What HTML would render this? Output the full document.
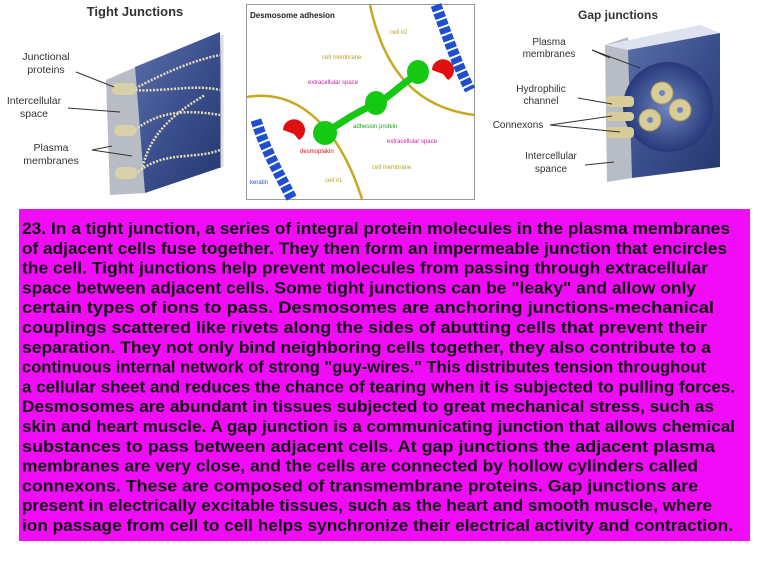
<!DOCTYPE html>
<html><head><meta charset="utf-8"><style>
html,body{margin:0;padding:0;background:#fff;width:768px;height:561px;overflow:hidden}
</style></head><body>
<svg width="768" height="561" viewBox="0 0 768 561" xmlns="http://www.w3.org/2000/svg" font-family="Liberation Sans, sans-serif">
<defs>
<linearGradient id="bl" x1="0" y1="0" x2="1" y2="1"><stop offset="0" stop-color="#5a6fa8"/><stop offset="0.5" stop-color="#3b4f8e"/><stop offset="1" stop-color="#24376e"/></linearGradient>
<radialGradient id="rg" cx="0.5" cy="0.5" r="0.5"><stop offset="0" stop-color="#6f86c0"/><stop offset="1" stop-color="#27397a"/></radialGradient>
</defs>
<!-- LEFT -->
<text x="135" y="16" font-size="13" font-weight="bold" fill="#333" text-anchor="middle">Tight Junctions</text>
<polygon points="106,80 135,67 145,193 110,195" fill="#b8bcc4"/>
<polygon points="106,80 200,40 220,32 135,67" fill="#e8e8ee"/>
<polygon points="135,67 220,32 222,167 145,193" fill="url(#bl)"/>
<line x1="222" y1="35" x2="222" y2="167" stroke="#ddd" stroke-width="3"/>
<g fill="none" stroke="#e5ddb4" stroke-width="2.5" stroke-dasharray="2 1.5">
<path d="M132,90 C165,92 195,84 220,90"/>
<path d="M135,130 C160,110 190,110 220,115"/>
<path d="M138,172 C165,150 195,160 220,150"/>
<path d="M132,90 C170,70 195,60 220,55"/>
<path d="M142,170 C150,130 180,110 205,95"/>
</g>
<g fill="#d8d0a8"><rect x="112" y="83" width="24" height="12" rx="5"/><rect x="114" y="125" width="22" height="11" rx="5"/><rect x="115" y="167" width="22" height="12" rx="5"/></g>
<g font-size="10.5" fill="#333" text-anchor="middle">
<text x="46" y="60">Junctional</text><text x="46" y="73">proteins</text>
<text x="34" y="104">Intercellular</text><text x="34" y="117">space</text>
<text x="51" y="151">Plasma</text><text x="51" y="164">membranes</text></g>
<g stroke="#333" stroke-width="1"><line x1="76" y1="72" x2="114" y2="87"/><line x1="68" y1="108" x2="120" y2="112"/><line x1="92" y1="150" x2="112" y2="146"/><line x1="92" y1="150" x2="132" y2="156"/></g>
<!-- MIDDLE -->
<rect x="246.5" y="4.5" width="228" height="195" fill="#fff" stroke="#999"/>
<text x="250" y="18" font-size="8" font-weight="bold" fill="#222">Desmosome adhesion</text>
<path d="M370,5 C385,75 420,108 474,115" fill="none" stroke="#c8a820" stroke-width="2.5"/>
<path d="M247,97 C300,88 340,130 362,199" fill="none" stroke="#c8a820" stroke-width="2.5"/>
<path d="M436,5 C445,30 455,60 470,90" fill="none" stroke="#1e4fd0" stroke-width="11" stroke-dasharray="6 2"/>
<path d="M256,120 C265,150 280,175 292,199" fill="none" stroke="#1e4fd0" stroke-width="11" stroke-dasharray="6 2"/>
<path d="M325,133 C345,120 360,110 378,103 C392,95 400,85 416,75" fill="none" stroke="#14c814" stroke-width="7"/>
<ellipse cx="325" cy="133" rx="12" ry="12" fill="#14c814"/>
<ellipse cx="376" cy="103" rx="11" ry="12" fill="#14c814"/>
<ellipse cx="418" cy="72" rx="11" ry="12" fill="#14c814"/>
<path d="M283,130 a11,11 0 1,1 16,10 l-5,-6 z" fill="#e01010"/>
<path d="M432,70 a11,11 0 1,1 16,10 l-5,-6 z" fill="#e01010"/>
<g font-size="6">
<text x="390" y="34" fill="#b8a020">cell #2</text>
<text x="322" y="59" fill="#b8a020">cell membrane</text>
<text x="308" y="84" fill="#d020a0">extracellular space</text>
<text x="353" y="128" fill="#20a020">adhesion protein</text>
<text x="387" y="143" fill="#d020a0">extracellular space</text>
<text x="300" y="153" fill="#e01010">desmoplakin</text>
<text x="372" y="169" fill="#b8a020">cell membrane</text>
<text x="325" y="182" fill="#b8a020">cell #1</text>
<text x="250" y="184" fill="#1e4fd0">keratin</text>
</g>
<!-- RIGHT -->
<text x="618" y="19" font-size="12" font-weight="bold" fill="#333" text-anchor="middle">Gap junctions</text>
<polygon points="605,45 628,37 632,178 607,182" fill="#b8bcc4"/>
<polygon points="605,45 700,25 720,33 628,50" fill="#dde2ee"/>
<polygon points="628,50 720,33 720,167 632,178" fill="url(#bl)"/>
<ellipse cx="668" cy="107" rx="45" ry="45" fill="url(#rg)"/>
<g fill="#d8cc98" stroke="#a89860"><circle cx="662" cy="93" r="11"/><circle cx="650" cy="120" r="11"/><circle cx="680" cy="110" r="11"/></g>
<g fill="#6f86c0"><circle cx="662" cy="93" r="3"/><circle cx="650" cy="120" r="3"/><circle cx="680" cy="110" r="3"/></g>
<g fill="#d8cc98"><rect x="606" y="96" width="28" height="11" rx="4"/><rect x="606" y="112" width="28" height="9" rx="4"/><rect x="606" y="127" width="28" height="11" rx="4"/></g>
<g font-size="10" fill="#333" text-anchor="middle">
<text x="549" y="45">Plasma</text><text x="549" y="57">membranes</text>
<text x="541" y="92">Hydrophilic</text><text x="541" y="104">channel</text>
<text x="518" y="128">Connexons</text>
<text x="551" y="159">Intercellular</text><text x="551" y="172">spance</text></g>
<g stroke="#333" stroke-width="1"><line x1="592" y1="50" x2="610" y2="58"/><line x1="592" y1="50" x2="640" y2="68"/><line x1="578" y1="98" x2="612" y2="104"/><line x1="550" y1="125" x2="612" y2="116"/><line x1="550" y1="125" x2="620" y2="132"/><line x1="585" y1="165" x2="614" y2="162"/></g>
<!-- TEXT BOX -->
<rect x="19" y="209" width="731" height="332" fill="#f00cf6"/>
<g font-size="17" font-weight="bold" fill="#111">
<text x="22" y="234" textLength="708" lengthAdjust="spacingAndGlyphs">23. In a tight junction, a series of integral protein molecules in the plasma membranes</text>
<text x="22" y="253.8" textLength="705" lengthAdjust="spacingAndGlyphs">of adjacent cells fuse together. They then form an impermeable junction that encircles</text>
<text x="22" y="273.6" textLength="686" lengthAdjust="spacingAndGlyphs">the cell. Tight junctions help prevent molecules from passing through extracellular</text>
<text x="22" y="293.4" textLength="674" lengthAdjust="spacingAndGlyphs">space between adjacent cells. Some tight junctions can be "leaky" and allow only</text>
<text x="22" y="313.2" textLength="692" lengthAdjust="spacingAndGlyphs">certain types of ions to pass. Desmosomes are anchoring junctions-mechanical</text>
<text x="22" y="333" textLength="685" lengthAdjust="spacingAndGlyphs">couplings scattered like rivets along the sides of abutting cells that prevent their</text>
<text x="22" y="352.8" textLength="689" lengthAdjust="spacingAndGlyphs">separation. They not only bind neighboring cells together, they also contribute to a</text>
<text x="22" y="372.6" textLength="684" lengthAdjust="spacingAndGlyphs">continuous internal network of strong "guy-wires." This distributes tension throughout</text>
<text x="22" y="392.4" textLength="713" lengthAdjust="spacingAndGlyphs">a cellular sheet and reduces the chance of tearing when it is subjected to pulling forces.</text>
<text x="22" y="412.2" textLength="692" lengthAdjust="spacingAndGlyphs">Desmosomes are abundant in tissues subjected to great mechanical stress, such as</text>
<text x="22" y="432" textLength="713" lengthAdjust="spacingAndGlyphs">skin and heart muscle. A gap junction is a communicating junction that allows chemical</text>
<text x="22" y="451.8" textLength="693" lengthAdjust="spacingAndGlyphs">substances to pass between adjacent cells. At gap junctions the adjacent plasma</text>
<text x="22" y="471.6" textLength="676" lengthAdjust="spacingAndGlyphs">membranes are very close, and the cells are connected by hollow cylinders called</text>
<text x="22" y="491.4" textLength="676" lengthAdjust="spacingAndGlyphs">connexons. These are composed of transmembrane proteins. Gap junctions are</text>
<text x="22" y="511.2" textLength="690" lengthAdjust="spacingAndGlyphs">present in electrically excitable tissues, such as the heart and smooth muscle, where</text>
<text x="22" y="531" textLength="711" lengthAdjust="spacingAndGlyphs">ion passage from cell to cell helps synchronize their electrical activity and contraction.</text>
</g>
</svg>
</body></html>
